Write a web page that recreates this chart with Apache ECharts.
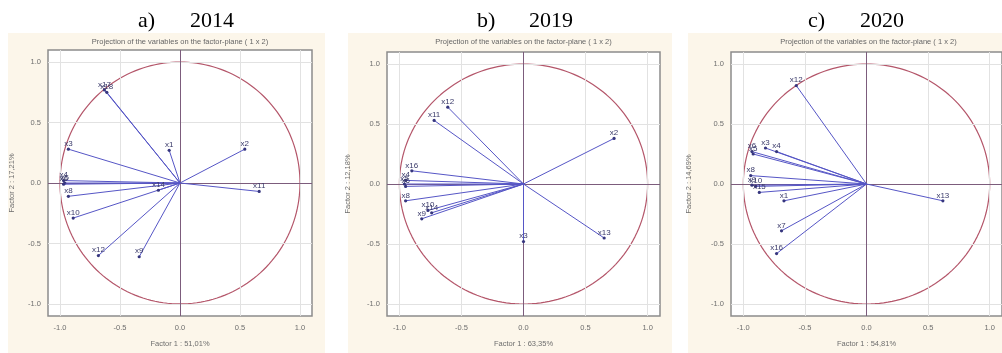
<!DOCTYPE html>
<html>
<head>
<meta charset="utf-8">
<script src="https://cdn.jsdelivr.net/npm/echarts@6/dist/echarts.min.js"></script>
<style>
  html, body { margin: 0; padding: 0; background: #ffffff; }
  #chart { width: 1002px; height: 353px; }
</style>
</head>
<body>
<div id="chart"></div>
<script>
// Panel captions and factor shares
const panelTags = ['a)', 'b)', 'c)'];
const panelYears = ['2014', '2019', '2020'];
const factor1Share = ['51,01%', '63,35%', '54,81%'];
const factor2Share = ['17,21%', '12,18%', '14,69%'];
const planeTitle = 'Projection of the variables on the factor-plane ( 1 x 2)';
const axisTicks = [-1.0, -0.5, 0.0, 0.5, 1.0];

// Variable loadings on factor 1 / factor 2, per year
const names2014 = ['x17', 'x18', 'x3', 'x1', 'x2', 'x4', 'x5', 'x6', 'x8', 'x10', 'x12', 'x9', 'x14', 'x11'];
const f1_2014 = [-0.63, -0.61, -0.93, -0.09, 0.54, -0.97, -0.96, -0.97, -0.93, -0.89, -0.68, -0.34, -0.18, 0.66];
const f2_2014 = [0.77, 0.75, 0.28, 0.27, 0.28, 0.02, 0.00, -0.01, -0.11, -0.29, -0.60, -0.61, -0.06, -0.07];

const names2019 = ['x12', 'x11', 'x2', 'x16', 'x4', 'x5', 'x6', 'x8', 'x9', 'x10', 'x14', 'x3', 'x13'];
const f1_2019 = [-0.61, -0.72, 0.73, -0.90, -0.95, -0.96, -0.95, -0.95, -0.82, -0.77, -0.74, 0.00, 0.65];
const f2_2019 = [0.64, 0.53, 0.38, 0.11, 0.03, 0.00, -0.02, -0.14, -0.29, -0.22, -0.24, -0.48, -0.45];

const names2020 = ['x12', 'x6', 'x5', 'x3', 'x4', 'x8', 'x9', 'x10', 'x15', 'x1', 'x7', 'x16', 'x13'];
const f1_2020 = [-0.57, -0.93, -0.92, -0.82, -0.73, -0.94, -0.93, -0.90, -0.87, -0.67, -0.69, -0.73, 0.62];
const f2_2020 = [0.82, 0.27, 0.25, 0.30, 0.27, 0.07, -0.01, -0.02, -0.07, -0.14, -0.39, -0.58, -0.14];

const panelNames = [names2014, names2019, names2020];
const panelF1 = [f1_2014, f1_2019, f1_2020];
const panelF2 = [f2_2014, f2_2019, f2_2020];

// Layout of the three panels
const panels = [
  { bg: [8, 33, 317, 320], grid: { left: 48, top: 50, width: 264, height: 273 }, tagX: 138, yearX: 190, yNameGap: 32 },
  { bg: [348, 33, 324, 320], grid: { left: 387, top: 52, width: 273, height: 271 }, tagX: 477, yearX: 529, yNameGap: 35 },
  { bg: [688, 33, 320, 320], grid: { left: 731, top: 52, width: 275, height: 265 }, tagX: 808, yearX: 860, yNameGap: 38 }
];

const SANS = '"Liberation Sans", Arial, sans-serif';
const SERIF = '"Liberation Serif", "Times New Roman", serif';

// Unit correlation circle
const circlePts = [];
for (let a = 0; a <= 360; a += 2) {
  const t = a * Math.PI / 180;
  circlePts.push([Math.cos(t), Math.sin(t)]);
}

const grids = [], xAxes = [], yAxes = [], series = [], graphics = [];

panels.forEach((p, i) => {
  grids.push(Object.assign({
    show: true,
    backgroundColor: '#ffffff',
    borderColor: '#8c8c8c',
    borderWidth: 1.5
  }, p.grid));

  const tickLabel = {
    customValues: axisTicks,
    formatter: v => v.toFixed(1),
    color: '#6e6e6e',
    fontSize: 7.5,
    fontFamily: SANS
  };

  xAxes.push({
    type: 'value', gridIndex: i, min: -1.1, max: 1.1,
    axisLine: { show: false },
    axisTick: { show: true, customValues: axisTicks, length: 3, lineStyle: { color: '#8c8c8c' } },
    axisLabel: Object.assign({ margin: 8 }, tickLabel),
    splitLine: { show: false },
    name: 'Factor 1 : ' + factor1Share[i],
    nameLocation: 'middle', nameGap: 24,
    nameTextStyle: { color: '#6e6e6e', fontSize: 7.5, fontFamily: SANS }
  });

  yAxes.push({
    type: 'value', gridIndex: i, min: -1.1, max: 1.1,
    axisLine: { show: false },
    axisTick: { show: true, customValues: axisTicks, length: 3, lineStyle: { color: '#8c8c8c' } },
    axisLabel: Object.assign({ margin: 7 }, tickLabel),
    splitLine: { show: false },
    name: 'Factor 2 : ' + factor2Share[i],
    nameLocation: 'middle', nameGap: p.yNameGap, nameRotate: 90,
    nameTextStyle: { color: '#6e6e6e', fontSize: 7.5, fontFamily: SANS }
  });

  // gridlines at the tick values, darker reference lines through the origin
  const gridVals = axisTicks.filter(v => v !== 0);
  series.push({
    type: 'line', xAxisIndex: i, yAxisIndex: i,
    data: [], silent: true,
    markLine: {
      silent: true, symbol: 'none', label: { show: false },
      lineStyle: { color: '#e2e2e2', type: 'solid', width: 1 },
      data: gridVals.map(v => ({ xAxis: v })).concat(gridVals.map(v => ({ yAxis: v })))
    },
    z: 1
  });

  series.push({
    type: 'line', xAxisIndex: i, yAxisIndex: i,
    data: circlePts, showSymbol: false, silent: true,
    lineStyle: { color: '#b4566a', width: 1.2 },
    markLine: {
      silent: true, symbol: 'none', label: { show: false },
      lineStyle: { color: '#7c5c7c', type: 'solid', width: 1 },
      data: [{ xAxis: 0 }, { yAxis: 0 }]
    },
    z: 2
  });

  const names = panelNames[i];
  series.push({
    type: 'custom', xAxisIndex: i, yAxisIndex: i,
    data: panelF1[i].map((x, k) => [x, panelF2[i][k]]),
    renderItem: (params, api) => {
      const o = api.coord([0, 0]);
      const e = api.coord([api.value(0), api.value(1)]);
      return {
        type: 'group',
        children: [
          { type: 'line', shape: { x1: o[0], y1: o[1], x2: e[0], y2: e[1] },
            style: { stroke: '#5656c6', lineWidth: 1 } },
          { type: 'circle', shape: { cx: e[0], cy: e[1], r: 1.6 },
            style: { fill: '#36367e' } },
          { type: 'text', x: e[0], y: e[1] - 1.5,
            style: { text: names[params.dataIndex], fill: '#3a3a6a',
                     font: '8px ' + SANS, textAlign: 'center', textVerticalAlign: 'bottom' } }
        ]
      };
    },
    z: 5
  });

  // panel background, captions and plane title
  graphics.push({
    type: 'rect', z: -10, silent: true,
    shape: { x: p.bg[0], y: p.bg[1], width: p.bg[2], height: p.bg[3] },
    style: { fill: '#fcf6ea' }
  });
  graphics.push({
    type: 'text', x: p.tagX, y: 21, silent: true,
    style: { text: panelTags[i], font: '22px ' + SERIF, fill: '#000000', textVerticalAlign: 'middle' }
  });
  graphics.push({
    type: 'text', x: p.yearX, y: 21, silent: true,
    style: { text: panelYears[i], font: '22px ' + SERIF, fill: '#000000', textVerticalAlign: 'middle' }
  });
  graphics.push({
    type: 'text', x: p.grid.left + p.grid.width / 2, y: 42, silent: true,
    style: { text: planeTitle, font: '7.5px ' + SANS, fill: '#666666',
             textAlign: 'center', textVerticalAlign: 'middle' }
  });
});

const chart = echarts.init(document.getElementById('chart'), null, { renderer: 'canvas' });
chart.setOption({
  animation: false,
  backgroundColor: '#ffffff',
  grid: grids,
  xAxis: xAxes,
  yAxis: yAxes,
  series: series,
  graphic: { elements: graphics }
});
</script>
</body>
</html>
